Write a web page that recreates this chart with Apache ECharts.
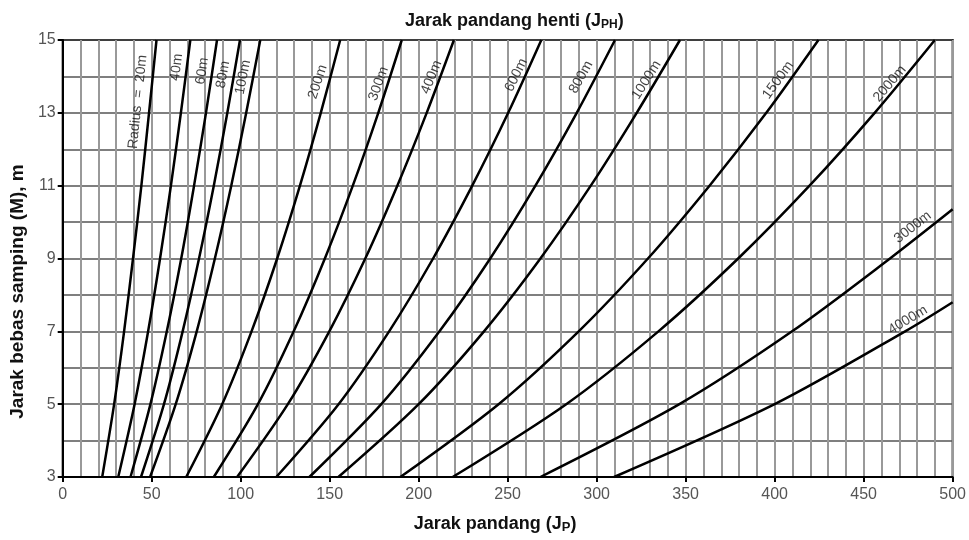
<!DOCTYPE html>
<html>
<head>
<meta charset="utf-8">
<script src="https://cdn.jsdelivr.net/npm/echarts@6/dist/echarts.min.js"></script>
<style>
html,body{margin:0;padding:0;background:#fff;}
#chart{width:969px;height:540px;}
</style>
</head>
<body>
<div id="chart"></div>
<script>
// Side clearance M (m) at which each curve is read
const mValues = [3, 5, 7, 9, 11, 13, 15];
// Sight distance S read for each radius at the M values above
const s20   = [22.2, 28.9, 34.5, 39.5, 44.2, 48.5, 52.7];
const s40   = [31.2, 40.4, 48.0, 54.7, 60.8, 66.4, 71.7];
const s60   = [38.1, 49.3, 58.5, 66.6, 73.8, 80.5, 86.7];
const s80   = [44.0, 56.9, 67.4, 76.6, 84.9, 92.5, 99.6];
const s100  = [49.1, 63.5, 75.3, 85.5, 94.7, 103.1, 111.0];
const s200  = [69.4, 89.6, 106.1, 120.5, 133.3, 145.0, 155.9];
const s300  = [84.9, 109.7, 129.8, 147.3, 163.0, 177.3, 190.5];
const s400  = [98.0, 126.5, 149.8, 170.0, 188.0, 204.5, 219.8];
const s600  = [120.0, 155.0, 183.4, 208.1, 230.1, 250.3, 268.9];
const s800  = [138.6, 179.0, 211.7, 240.2, 265.6, 288.8, 310.3];
const s1000 = [154.9, 200.0, 236.7, 268.4, 296.7, 322.5, 346.8];
const s1500 = [189.7, 244.9, 289.9, 328.8, 363.4, 395.3, 424.6];
const s2000 = [219.1, 282.9, 334.7, 379.5, 419.6, 456.2, 490.0];
// curves leaving through the right edge: [S, M] pairs
const c3000 = [[268.4, 3], [346.5, 5], [409.8, 7], [464.8, 9], [500, 10.35]];
const c4000 = [[309.8, 3], [400.0, 5], [473.3, 7], [500, 7.8]];

const curveNames = ['20m','40m','60m','80m','100m','200m','300m','400m','600m','800m','1000m','1500m','2000m'];
const curveS = [s20,s40,s60,s80,s100,s200,s300,s400,s600,s800,s1000,s1500,s2000];

// curve labels
const labelTexts = ['Radius  =  20m','40m','60m','80m','100m','200m','300m','400m','600m','800m','1000m','1500m','2000m','3000m','4000m'];
const labelS     = [42.2, 64.0, 78.4, 90.1, 101.3, 143.3, 177.5, 207.2, 254.8, 291.2, 328.0, 402.0, 464.7, 477.6, 474.8];
const labelM     = [13.3, 14.25, 14.15, 14.05, 13.98, 13.85, 13.8, 13.98, 14.04, 13.98, 13.9, 13.9, 13.8, 9.86, 7.31];
const labelAngle = [84, 83, 81, 80, 79, 72, 70, 68, 64, 61, 58, 54, 50, 38, 31];

const xTicks = {min: 0, max: 500, step: 50};
const yTicks = {min: 3, max: 15, step: 2};

const chart = echarts.init(document.getElementById('chart'), null, {renderer: 'canvas'});

const sans = '"Liberation Sans", Arial, Helvetica, sans-serif';
const lineStyle = {color: '#000', width: 2.5};
const series = [];
curveS.forEach((arr, i) => {
  series.push({
    name: curveNames[i], type: 'line', smooth: 0.3, showSymbol: false, silent: true,
    lineStyle: lineStyle,
    data: arr.map((s, j) => [s, mValues[j]])
  });
});
series.push({name: '3000m', type: 'line', smooth: 0.3, showSymbol: false, silent: true, lineStyle: lineStyle, data: c3000});
series.push({name: '4000m', type: 'line', smooth: 0.3, showSymbol: false, silent: true, lineStyle: lineStyle, data: c4000});
series.push({
  name: 'labels', type: 'scatter', symbolSize: 0, silent: true, z: 5,
  data: labelTexts.map((t, i) => ({
    value: [labelS[i], labelM[i]], name: t,
    label: {rotate: labelAngle[i]}
  })),
  label: {
    show: true, position: 'inside', formatter: p => p.name,
    fontFamily: sans, fontSize: 14, color: '#111'
  }
});

chart.setOption({
  animation: false,
  backgroundColor: '#fff',
  title: {
    text: 'Jarak pandang henti (J{s|PH})',
    left: 400, top: 6,
    textStyle: {
      fontFamily: sans, fontSize: 18, fontWeight: 'bold', color: '#111',
      rich: {s: {fontFamily: sans, fontSize: 12, fontWeight: 'bold', color: '#111', verticalAlign: 'bottom', padding: [8, 0, 0, 0]}}
    }
  },
  grid: {left: 62, right: 14, top: 40, bottom: 63, show: true, borderColor: '#000', borderWidth: 2},
  xAxis: {
    type: 'value', min: xTicks.min, max: xTicks.max, interval: xTicks.step,
    name: 'Jarak pandang (J{s|P})', nameLocation: 'middle', nameGap: 37,
    nameTextStyle: {
      fontFamily: sans, fontSize: 18, fontWeight: 'bold', color: '#111', padding: [0, 25, 0, 0],
      rich: {s: {fontFamily: sans, fontSize: 13, fontWeight: 'bold', color: '#111', verticalAlign: 'bottom', padding: [7, 0, 0, 0]}}
    },
    axisLine: {show: true, lineStyle: {color: '#000', width: 2}},
    axisTick: {show: true, length: 5, lineStyle: {color: '#000', width: 2}},
    axisLabel: {fontFamily: sans, fontSize: 16, color: '#555', margin: 10},
    splitLine: {show: true, lineStyle: {color: '#999', width: 2}},
    minorTick: {show: false, splitNumber: 5},
    minorSplitLine: {show: true, lineStyle: {color: '#999', width: 2}}
  },
  yAxis: {
    type: 'value', min: yTicks.min, max: yTicks.max, interval: yTicks.step,
    name: 'Jarak bebas samping (M), m', nameLocation: 'middle', nameGap: 30, nameRotate: 90,
    nameTextStyle: {fontFamily: sans, fontSize: 19, fontWeight: 'bold', color: '#111', padding: [0, 66, 0, 0]},
    axisLine: {show: true, lineStyle: {color: '#000', width: 2}},
    axisTick: {show: true, length: 5, lineStyle: {color: '#000', width: 2}},
    axisLabel: {fontFamily: sans, fontSize: 16, color: '#555', margin: 7},
    splitLine: {show: true, lineStyle: {color: '#555', width: 1.5}},
    minorTick: {show: false, splitNumber: 2},
    minorSplitLine: {show: true, lineStyle: {color: '#555', width: 1.5}}
  },
  series: series
});
</script>
</body>
</html>
